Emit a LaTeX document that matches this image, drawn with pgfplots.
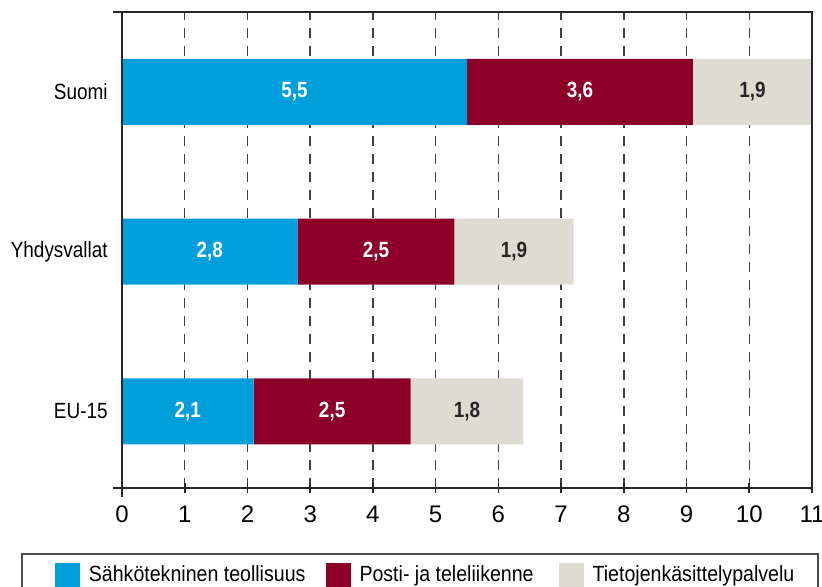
\documentclass[border=0pt]{standalone}
\usepackage{fontspec}
\setmainfont{Liberation Sans}
\newfontfamily\narrowfont{Liberation Sans}[FakeStretch=0.86]
\newfontfamily\legendfont{Liberation Sans}[FakeStretch=0.89]
\usepackage{pgfplots}
\pgfplotsset{compat=1.18}
\definecolor{cblue}{RGB}{0,158,219}
\definecolor{cred}{RGB}{140,0,40}
\definecolor{cbeige}{RGB}{222,220,208}
\begin{document}
\begin{tikzpicture}
\begin{axis}[
  xbar stacked,
  scale only axis,
  clip=false,
  width=345pt, height=238pt,
  xmin=0, xmax=11, ymin=-0.48, ymax=2.5,
  bar width=33pt,
  xtick={0,...,11},
  ytick={0,1,2},
  yticklabels={EU-15,Yhdysvallat,Suomi},
  xtick pos=bottom, ytick pos=left,
  xtick align=center,
  major tick length=5pt,
  ytick style={draw=none},
  xtick style={line width=0.8pt, draw=black!85},
  xmajorgrids,
  major grid style={dash pattern=on 5pt off 4pt, draw=black!75, line width=0.75pt},
  axis line style={line width=1.2pt, draw=black!85},
  /pgf/number format/assume math mode=true,
  xticklabel style={font=\fontsize{12}{14}\selectfont, anchor=center, yshift=-10.5pt},
  yticklabel style={font=\narrowfont\fontsize{11}{13}\selectfont, anchor=east, inner sep=0pt, xshift=-7pt},
  point meta=rawx,
  nodes near coords={\pgfmathprintnumber[fixed,fixed zerofill,precision=1,use comma]{\pgfplotspointmeta}},
  every node near coord/.append style={anchor=center, font=\narrowfont\bfseries\fontsize{11}{13}\selectfont, text=white},
  legend columns=3,
  legend image code/.code={\fill[#1,draw=none] (6pt,-6.25pt) rectangle (18.5pt,6.25pt); \path (0pt,0pt) (21.5pt,0pt);},
  legend style={at={(-0.1464,-0.1366)}, anchor=north west, draw=black!70, line width=0.9pt,
    font=\legendfont\fontsize{11}{13}\selectfont, inner xsep=10.5pt, inner ysep=4pt,
    nodes={inner xsep=1.5pt},
    /tikz/column 2/.style={column sep=2.5pt},
    /tikz/column 4/.style={column sep=5pt}},
  after end axis/.code={
    \draw[line width=1.2pt, draw=black!85] (rel axis cs:0,1) -- ++(-4.5pt,0);
    \draw[line width=1.2pt, draw=black!85] (rel axis cs:0,0) -- ++(-4.5pt,0);
    \draw[line width=1.2pt, draw=black!85] (rel axis cs:0,0) -- ++(0,-4.5pt);
    \draw[line width=1.2pt, draw=black!85] (rel axis cs:0,0) rectangle (rel axis cs:1,1);
  },
]
\addplot[fill=cblue, draw=none] coordinates {(2.1,0) (2.8,1) (5.5,2)};
\addplot[fill=cred, draw=none] coordinates {(2.5,0) (2.5,1) (3.6,2)};
\addplot[fill=cbeige, draw=none, every node near coord/.append style={text=black!85}] coordinates {(1.8,0) (1.9,1) (1.9,2)};
\legend{Sähkötekninen teollisuus, Posti- ja teleliikenne, Tietojenkäsittelypalvelu}
\end{axis}
\pgfresetboundingbox
\path[use as bounding box] ([xshift=-61pt,yshift=-49.5pt]current axis.south west) rectangle ([xshift=5pt,yshift=6pt]current axis.north east);
\end{tikzpicture}
\end{document}
